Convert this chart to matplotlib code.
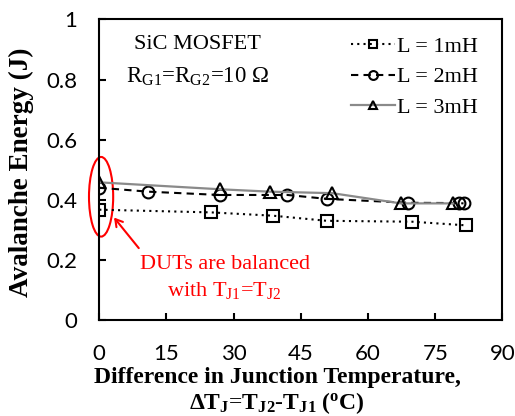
import matplotlib
matplotlib.use("Agg")
import matplotlib.pyplot as plt
from matplotlib.patches import Ellipse
from matplotlib.ticker import FuncFormatter

# ---- data ----
x_1mH = [0, 25, 38.8, 50.8, 69.9, 81.8]
y_1mH = [0.367, 0.358, 0.347, 0.330, 0.327, 0.315]

x_2mH = [0, 10.9, 26.9, 42.0, 50.8, 69.0, 80.2, 81.3]
y_2mH = [0.440, 0.427, 0.416, 0.416, 0.403, 0.390, 0.389, 0.388]

x_3mH = [0, 26.9, 38.1, 52.0, 67.3, 79.0]
y_3mH = [0.458, 0.435, 0.427, 0.422, 0.388, 0.388]

labels = ["L = 1mH", "L = 2mH", "L = 3mH"]
xticks = [0, 15, 30, 45, 60, 75, 90]
yticks = [0, 0.2, 0.4, 0.6, 0.8, 1.0]

plt.rcParams['mathtext.fontset'] = 'custom'
plt.rcParams['mathtext.rm'] = 'Liberation Serif'
plt.rcParams['mathtext.it'] = 'Liberation Serif:italic'
plt.rcParams['mathtext.bf'] = 'Liberation Serif:bold'

serif = 'Liberation Serif'
tickfont = 'Lato'

fig = plt.figure(figsize=(5.15, 4.16), dpi=100)
ax = fig.add_axes([0.1928, 0.2308, 0.7829, 0.7224])

mk = dict(markerfacecolor='none', markeredgecolor='black', markeredgewidth=1.5, markersize=8.5)
ax.plot(x_1mH, y_1mH, color='black', lw=1.5, linestyle=(0, (1, 2)), marker='s', label=labels[0], **mk)
ax.plot(x_2mH, y_2mH, color='black', lw=1.5, linestyle=(0, (3.5, 2.5)), marker='o', label=labels[1], **mk)
ax.plot(x_3mH, y_3mH, color='#8a8a8a', lw=1.6, linestyle='-', marker='^', label=labels[2], **mk)

ax.set_xlim(0, 90)
ax.set_ylim(0, 1)
ax.set_xticks(xticks)
ax.set_yticks(yticks)
ax.yaxis.set_major_formatter(FuncFormatter(lambda v, p: f"{v:g}"))
ax.tick_params(direction='in', length=5, width=1.5, labelsize=16)
ax.tick_params(axis='x', pad=17)
ax.tick_params(axis='y', pad=16)
for lab in ax.get_xticklabels() + ax.get_yticklabels():
    lab.set_fontfamily(tickfont)
for s in ax.spines.values():
    s.set_linewidth(1.5)

# axis labels
fig.text(0.042, 0.5865, "Avalanche Energy (J)", rotation=90, ha='center', va='center',
         fontsize=19.5, fontweight='bold', family=serif)
fig.text(0.538, 0.0786, "Difference in Junction Temperature,", ha='center', va='baseline',
         fontsize=17, fontweight='bold', family=serif)
fig.text(0.538, 0.0175, r"$\mathbf{\Delta T_{J}\text{=}T_{J2}\text{-}T_{J1}\ (^{o}C)}$", ha='center', va='baseline',
         fontsize=17, family=serif)

# inset text
ax.text(0.243, 0.918, "SiC MOSFET", transform=ax.transAxes, ha='center', va='center',
        fontsize=16, family=serif)
ax.text(0.243, 0.808, r"$\mathrm{R_{G1}\text{=}R_{G2}\text{=}10\ \Omega}$", transform=ax.transAxes,
        ha='center', va='center', fontsize=16.5, family=serif)

leg = fig.legend(loc='upper right', bbox_to_anchor=(0.928, 0.913), frameon=False,
                 prop={'family': serif, 'size': 16}, handlelength=1.95, handletextpad=0.1,
                 labelspacing=0.45, borderpad=0, borderaxespad=0, numpoints=1, markerscale=0.75)

# annotation
ell = Ellipse((0.4, 0.41), 5.4, 0.265, fill=False, edgecolor='red', lw=1.5, clip_on=False)
ax.add_patch(ell)
ax.annotate('', xy=(2.9, 0.348), xytext=(9.2, 0.232),
            arrowprops=dict(arrowstyle='->,head_length=0.5,head_width=0.3', color='red', lw=1.5))
ax.text(28.0, 0.185, "DUTs are balanced", ha='center', va='center', color='red',
        fontsize=16, family=serif)
ax.text(27.8, 0.097, r"with $\mathrm{T_{J1}\text{=}T_{J2}}$", ha='center', va='center', color='red',
        fontsize=16, family=serif)

fig.savefig("out.png", dpi=100)
